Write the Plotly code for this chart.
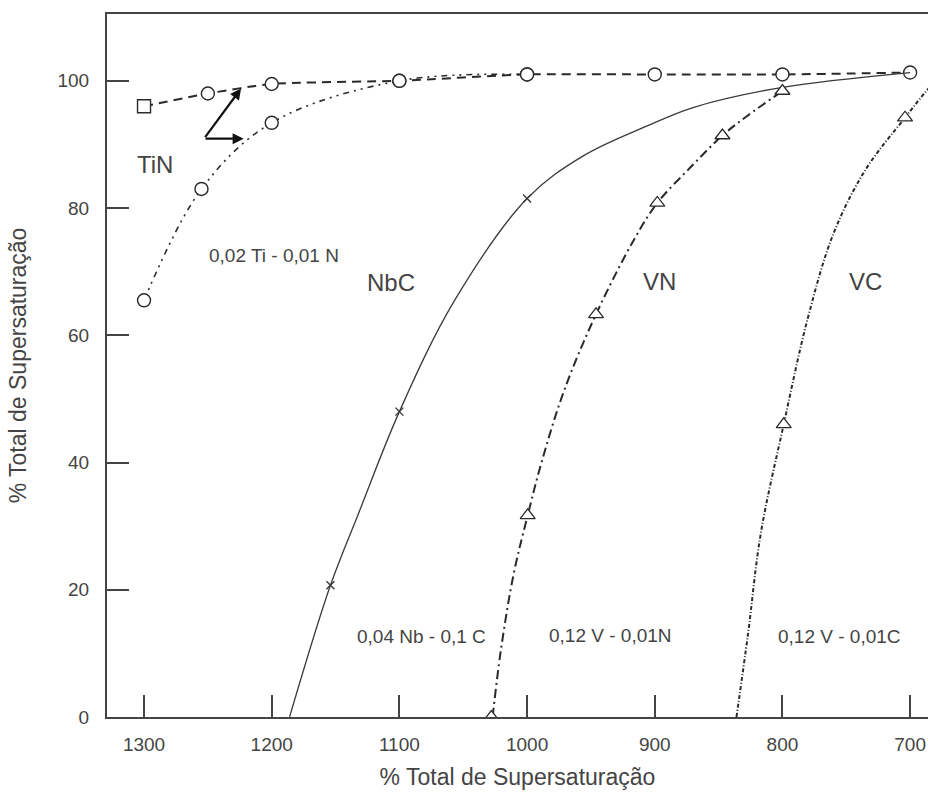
import plotly.graph_objects as go

# Temperature (x) and % of total supersaturation (y) for each precipitate
tin_upper_x = [1300, 1250, 1200, 1100, 1000, 900, 800, 700]
tin_upper_y = [96.0, 98.0, 99.5, 100.0, 101.0, 101.0, 101.0, 101.3]

tin_lower_x = [1300, 1255, 1200, 1100, 1000]
tin_lower_y = [65.5, 83.0, 93.4, 100.0, 101.0]

nbc_x = [1186, 1154, 1132, 1100, 1057, 1000, 956, 906, 870, 802, 700]
nbc_y = [0.0, 20.7, 32.0, 48.0, 65.4, 81.5, 88.2, 92.9, 95.8, 98.9, 101.3]
nbc_mark_x = [1154, 1100, 1000]
nbc_mark_y = [20.7, 48.0, 81.5]

vn_x = [1027, 1020.6, 1010.5, 999.5, 989, 971, 946, 916.6, 898, 872, 847, 827.4, 800]
vn_y = [0.0, 10.4, 22.5, 31.7, 39.8, 51.3, 63.3, 74.9, 80.8, 86.4, 91.4, 94.5, 98.4]
vn_mark_x = [1028, 999.5, 946, 898, 847, 800]
vn_mark_y = [0.0, 31.7, 63.3, 80.8, 91.4, 98.4]

vc_x = [836, 827, 817, 799, 780, 760, 735, 704, 686, 675]
vc_y = [0.0, 13.0, 28.8, 46.0, 62.8, 76.0, 86.0, 94.2, 98.7, 101.0]
vc_mark_x = [799, 704]
vc_mark_y = [46.0, 94.2]

x_ticks = [1300, 1200, 1100, 1000, 900, 800, 700]
y_ticks = [0, 20, 40, 60, 80, 100]

INK = "#2a2a2a"
TEXT = "#444444"
FONT = "Liberation Sans, Arial, sans-serif"

fig = go.Figure()

# TiN, upper branch (dashed, square start then open circles)
fig.add_trace(go.Scatter(
    x=tin_upper_x, y=tin_upper_y, mode="lines+markers",
    line=dict(color=INK, width=2, dash="9px,6px", shape="spline", smoothing=0.6),
    marker=dict(symbol=["square"] + ["circle"] * (len(tin_upper_x) - 1),
                size=13, color="white", line=dict(color=INK, width=1.4)),
))

# TiN, lower branch (dash-dot-dot)
fig.add_trace(go.Scatter(
    x=tin_lower_x, y=tin_lower_y, mode="lines+markers",
    line=dict(color=INK, width=1.6, dash="6px,5px,2px,5px,2px,5px", shape="spline", smoothing=1),
    marker=dict(symbol="circle", size=13, color="white", line=dict(color=INK, width=1.4)),
))

# NbC (thin solid curve with x marks)
fig.add_trace(go.Scatter(
    x=nbc_x, y=nbc_y, mode="lines",
    line=dict(color="#3a3a3a", width=1.3, shape="spline", smoothing=1),
))
fig.add_trace(go.Scatter(
    x=nbc_mark_x, y=nbc_mark_y, mode="markers",
    marker=dict(symbol="x-thin-open", size=8, color="#3a3a3a",
                line=dict(color="#3a3a3a", width=1.4)),
))

# VN (dash-dot with open triangles)
fig.add_trace(go.Scatter(
    x=vn_x, y=vn_y, mode="lines",
    line=dict(color=INK, width=2, dash="9px,4px,2px,4px", shape="spline", smoothing=1),
))
fig.add_trace(go.Scatter(
    x=vn_mark_x, y=vn_mark_y, mode="markers",
    marker=dict(symbol="triangle-up", size=13, color="white", line=dict(color=INK, width=1.3)),
))

# VC (fine dash-dot with open triangles)
fig.add_trace(go.Scatter(
    x=vc_x, y=vc_y, mode="lines",
    line=dict(color=INK, width=2, dash="4px,2px,1px,2px", shape="spline", smoothing=1),
))
fig.add_trace(go.Scatter(
    x=vc_mark_x, y=vc_mark_y, mode="markers",
    marker=dict(symbol="triangle-up", size=13, color="white", line=dict(color=INK, width=1.3)),
))

annotations = []

# Arrows pointing from the TiN label to both branches
for hx, hy in [(1224, 98.8), (1222, 90.9)]:
    annotations.append(dict(
        x=hx, y=hy, ax=1253, ay=90.9, xref="x", yref="y", axref="x", ayref="y",
        showarrow=True, arrowhead=2, arrowsize=1, arrowwidth=2.2, arrowcolor="#111", text="",
    ))

big_labels = [("TiN", 1291.8, 86.8), ("NbC", 1106.7, 68.3), ("VN", 896.2, 68.4), ("VC", 735.0, 68.4)]
for txt, x, y in big_labels:
    annotations.append(dict(x=x, y=y, xref="x", yref="y", text=txt, showarrow=False,
                            font=dict(family=FONT, size=24, color=TEXT)))

small_labels = [("0,02 Ti - 0,01 N", 1198.3, 72.5), ("0,04 Nb - 0,1 C", 1082.5, 12.6),
                ("0,12 V - 0,01N", 934.6, 12.8), ("0,12 V - 0,01C", 755.4, 12.6)]
for txt, x, y in small_labels:
    annotations.append(dict(x=x, y=y, xref="x", yref="y", text=txt, showarrow=False,
                            font=dict(family=FONT, size=19, color=TEXT)))

fig.update_layout(
    width=928, height=798,
    margin=dict(l=107, r=0, t=14, b=81),
    paper_bgcolor="white", plot_bgcolor="white",
    showlegend=False,
    font=dict(family=FONT, color=TEXT),
    annotations=annotations,
    xaxis=dict(
        range=[1329, 686], tickvals=x_ticks, ticktext=[str(v) for v in x_ticks],
        ticks="inside", ticklen=22, tickwidth=1.5, tickcolor="#444",
        showline=True, linecolor="#444", linewidth=2, mirror=True,
        showgrid=False, zeroline=False, ticklabelstandoff=9,
        tickfont=dict(family=FONT, size=19, color=TEXT),
        title=dict(text="% Total de Supersaturação", standoff=15,
                   font=dict(family=FONT, size=23, color=TEXT)),
    ),
    yaxis=dict(
        range=[0, 110.5], tickvals=y_ticks, ticktext=[str(v) for v in y_ticks],
        ticks="inside", ticklen=22, tickwidth=1.5, tickcolor="#444",
        showline=True, linecolor="#444", linewidth=2, mirror=False,
        showgrid=False, zeroline=False, ticklabelstandoff=12,
        tickfont=dict(family=FONT, size=19, color=TEXT),
        title=dict(text="% Total de Supersaturação", standoff=24,
                   font=dict(family=FONT, size=23, color=TEXT)),
    ),
)

fig.write_html("out.html")
